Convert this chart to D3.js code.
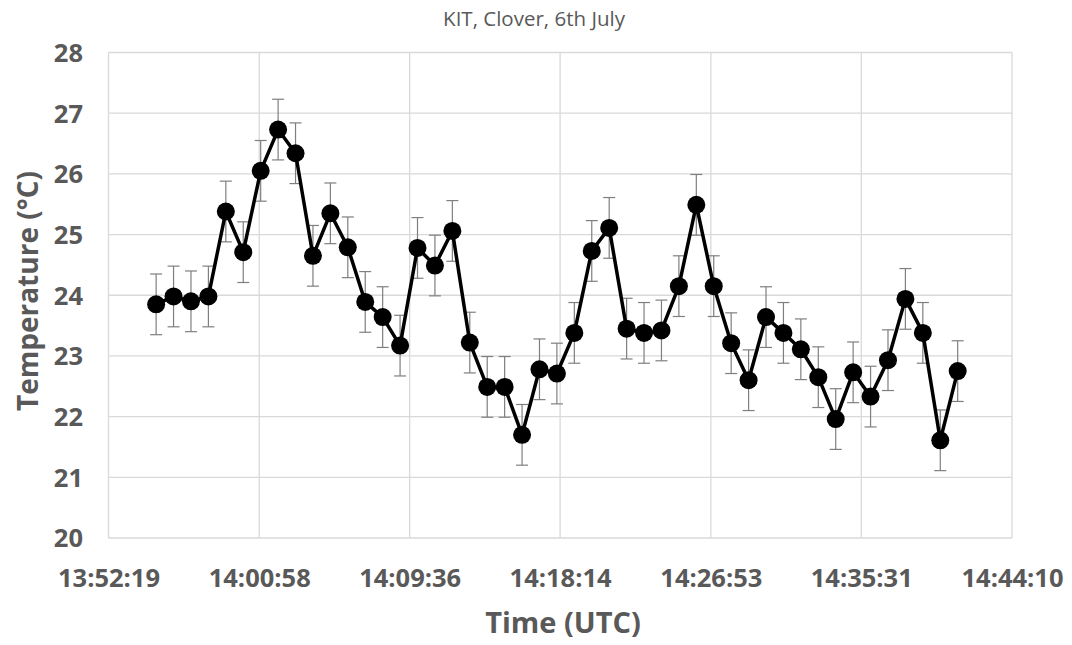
<!DOCTYPE html>
<html>
<head>
<meta charset="utf-8">
<script src="https://cdn.jsdelivr.net/npm/d3@7"></script>
<style>
  html, body { margin: 0; padding: 0; background: #fff; }
  svg { display: block; }
  text { font-family: "Open Sans", "Liberation Sans", sans-serif; fill: #595959; }
</style>
</head>
<body>
<svg id="chart" width="1072" height="645"></svg>
<script>
// ---- data ----
const times = [
  "13:55:03","13:56:03","13:57:03","13:58:03","13:59:03","14:00:03","14:01:03","14:02:03",
  "14:03:03","14:04:03","14:05:03","14:06:03","14:07:03","14:08:03","14:09:03","14:10:03",
  "14:11:03","14:12:03","14:13:03","14:14:03","14:15:03","14:16:03","14:17:03","14:18:03",
  "14:19:03","14:20:03","14:21:03","14:22:03","14:23:03","14:24:03","14:25:03","14:26:03",
  "14:27:03","14:28:03","14:29:03","14:30:03","14:31:03","14:32:03","14:33:03","14:34:03",
  "14:35:03","14:36:03","14:37:03","14:38:03","14:39:03","14:40:03","14:41:03"
];
const temperature = [
  23.85, 23.98, 23.90, 23.98, 25.38, 24.71, 26.05, 26.73,
  26.34, 24.65, 25.35, 24.79, 23.89, 23.64, 23.17, 24.78,
  24.49, 25.06, 23.22, 22.49, 22.49, 21.70, 22.78, 22.71,
  23.38, 24.73, 25.11, 23.45, 23.38, 23.42, 24.15, 25.49,
  24.15, 23.21, 22.60, 23.64, 23.38, 23.11, 22.65, 21.96,
  22.73, 22.33, 22.93, 23.94, 23.38, 21.61, 22.75
];
const errorHalf = [
  0.5,0.5,0.5,0.5,0.5,0.5,0.5,0.5,0.5,0.5,0.5,0.5,0.5,0.5,0.5,0.5,
  0.5,0.5,0.5,0.5,0.5,0.5,0.5,0.5,0.5,0.5,0.5,0.5,0.5,0.5,0.5,0.5,
  0.5,0.5,0.5,0.5,0.5,0.5,0.5,0.5,0.5,0.5,0.5,0.5,0.5,0.5,0.5
];
const xTickLabels = ["13:52:19","14:00:58","14:09:36","14:18:14","14:26:53","14:35:31","14:44:10"];
const yTicks = [20,21,22,23,24,25,26,27,28];
const title = "KIT, Clover, 6th July";
const xTitle = "Time (UTC)";
const yTitle = "Temperature (°C)";

// ---- layout ----
const svg = d3.select("#chart");
const M = { left: 108.5, right: 1012, top: 52.5, bottom: 538 };
const toSec = s => { const p = s.split(":").map(Number); return p[0]*3600 + p[1]*60 + p[2]; };

const x = d3.scaleLinear()
  .domain([toSec(xTickLabels[0]), toSec(xTickLabels[xTickLabels.length-1])])
  .range([M.left, M.right]);
const y = d3.scaleLinear().domain([20, 28]).range([M.bottom, M.top]);

const data = times.map((t, i) => ({ t: toSec(t), v: temperature[i], e: errorHalf[i] }));

// gridlines
const g = svg.append("g");
g.selectAll("line.hg").data(yTicks).join("line")
  .attr("x1", M.left).attr("x2", M.right)
  .attr("y1", d => y(d)).attr("y2", d => y(d))
  .attr("stroke", "#d9d9d9").attr("stroke-width", 1.3);
g.selectAll("line.vg").data(xTickLabels).join("line")
  .attr("x1", d => x(toSec(d))).attr("x2", d => x(toSec(d)))
  .attr("y1", M.top).attr("y2", M.bottom)
  .attr("stroke", "#d9d9d9").attr("stroke-width", 1.3);

// y axis labels
const yAxis = d3.axisLeft(y).tickValues(yTicks).tickSize(0).tickPadding(0).tickFormat(d3.format("d"));
svg.append("g").attr("transform", `translate(83,0)`).call(yAxis)
  .call(s => s.select(".domain").remove())
  .selectAll("text")
  .attr("font-size", 25.5).attr("font-weight", "bold")
  .style("font-family", "'Open Sans', sans-serif").attr("fill", "#595959")
  .attr("dy", "0.35em");

// x axis labels
const xAxis = d3.axisBottom(x).tickValues(xTickLabels.map(toSec)).tickSize(0).tickPadding(0)
  .tickFormat((d, i) => xTickLabels[i]);
svg.append("g").attr("transform", `translate(0,578)`).call(xAxis)
  .call(s => s.select(".domain").remove())
  .selectAll("text")
  .attr("font-size", 25.5).attr("font-weight", "bold")
  .style("font-family", "'Open Sans', sans-serif").attr("fill", "#595959")
  .attr("dy", "0.35em");

// error bars
const eb = svg.append("g").attr("stroke", "#7f7f7f").attr("stroke-width", 1.2);
eb.selectAll("line.v").data(data).join("line")
  .attr("x1", d => x(d.t)).attr("x2", d => x(d.t))
  .attr("y1", d => y(d.v + d.e)).attr("y2", d => y(d.v - d.e));
eb.selectAll("line.t").data(data).join("line")
  .attr("x1", d => x(d.t) - 6).attr("x2", d => x(d.t) + 6)
  .attr("y1", d => y(d.v + d.e)).attr("y2", d => y(d.v + d.e));
eb.selectAll("line.b").data(data).join("line")
  .attr("x1", d => x(d.t) - 6).attr("x2", d => x(d.t) + 6)
  .attr("y1", d => y(d.v - d.e)).attr("y2", d => y(d.v - d.e));

// line
svg.append("path").datum(data)
  .attr("fill", "none").attr("stroke", "#000").attr("stroke-width", 3.5)
  .attr("stroke-linejoin", "round")
  .attr("d", d3.line().x(d => x(d.t)).y(d => y(d.v)));

// markers
svg.append("g").selectAll("circle").data(data).join("circle")
  .attr("cx", d => x(d.t)).attr("cy", d => y(d.v)).attr("r", 9)
  .attr("fill", "#000");

// titles
svg.append("text").attr("x", 534).attr("y", 26).attr("text-anchor", "middle")
  .attr("font-size", 20.5).text(title);
svg.append("text").attr("x", 563).attr("y", 633).attr("text-anchor", "middle")
  .attr("font-size", 29).attr("font-weight", "bold").text(xTitle);
svg.append("text").attr("transform", "translate(38,291) rotate(-90)").attr("text-anchor", "middle")
  .attr("font-size", 28).attr("font-weight", "bold").text(yTitle);
</script>
</body>
</html>
